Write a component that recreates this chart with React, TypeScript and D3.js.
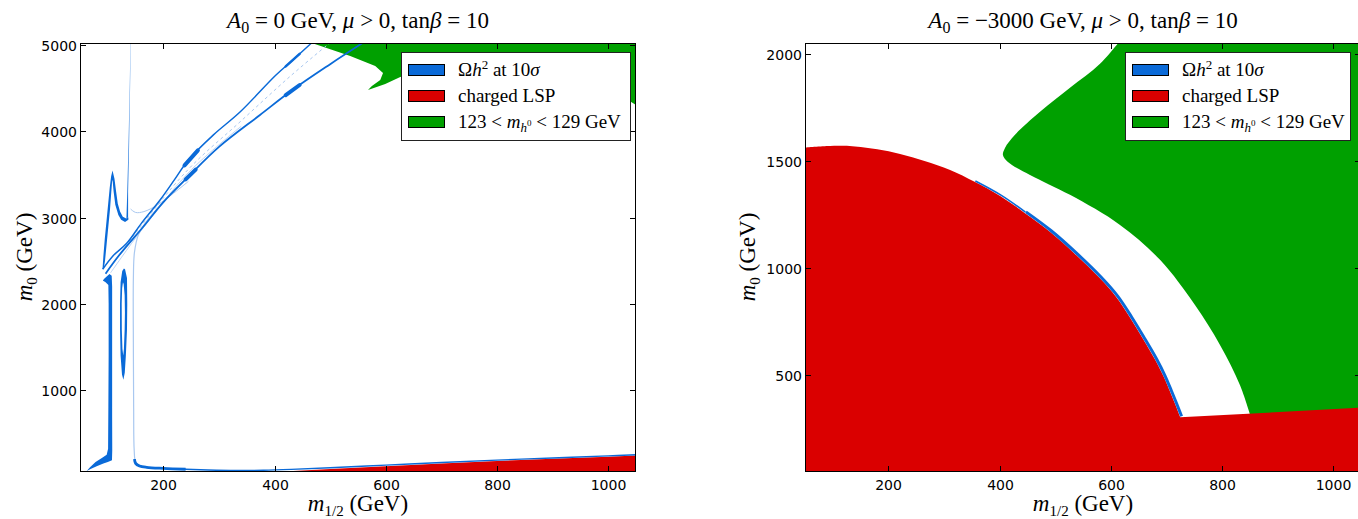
import React from 'react';
import * as d3 from 'd3';

type Pt = [number, number];

// ---------------- axes data ----------------
const xTicks = [200, 400, 600, 800, 1000];
const yTicksLeft = [1000, 2000, 3000, 4000, 5000];
const yTicksRight = [500, 1000, 1500, 2000];
const xDomain: [number, number] = [50, 1050];
const yDomainLeft: [number, number] = [50, 5025];
const yDomainRight: [number, number] = [50, 2050];

// ---------------- left panel (A0 = 0) ----------------
const leftRedEdge: Pt[] = [[400, 50], [500, 85], [600, 118], [700, 150], [800, 178], [900, 203], [1000, 228], [1050, 240], [1060, 240], [1060, 40], [400, 40]];
const leftGreen: Pt[] = [[467, 5100], [467, 5025], [536, 4874], [581, 4758], [595, 4677], [590, 4596], [575, 4526], [568, 4480], [599, 4550], [626, 4631], [716, 4758], [841, 4805], [949, 4712], [1050, 4306], [1100, 4306], [1100, 5100]];
const leftStrip: Pt[] = [[62, 62], [68, 105], [78, 165], [90, 215], [98, 250], [100.5, 320], [101, 800], [101.5, 1400], [101.5, 2000], [101, 2220], [96, 2250], [91, 2272], [94, 2295], [103, 2345], [107, 2325], [107.8, 2200], [107.8, 1400], [107.8, 700], [108, 300], [107.5, 185], [100, 165], [92, 150], [80, 118], [70, 88]];
const leftHook: Pt[] = [[90.5, 2400], [92, 2550], [94.5, 2750], [97.5, 2950], [100.5, 3150], [103.5, 3350], [106, 3480], [108.5, 3545], [112, 3450], [115, 3300], [118, 3160], [122, 3070], [127, 3010], [133, 2990], [137, 3000], [137, 2975], [131, 2950], [124, 2975], [119, 3030], [113.5, 3150], [110.5, 3300], [108.8, 3420], [108, 3440], [106.3, 3300], [104, 3100], [101, 2900], [98, 2700], [95, 2500], [93, 2420]];
const leftSpike: Pt[] = [[133.5, 2990], [135, 3300], [137, 3800], [139, 4400], [140.8, 5030], [141.5, 5030], [139.8, 4400], [138.2, 3800], [136.5, 3300], [136.5, 3000]];
const leftRingOuter: Pt[] = [[131, 2400], [134.5, 2300], [135, 2000], [134.5, 1700], [132.5, 1400], [130.5, 1200], [128, 1120], [125.5, 1180], [123, 1400], [122, 1700], [122, 2000], [123, 2250], [126, 2380], [129, 2410]];
const leftRingInner: Pt[] = [[128.5, 2230], [130.3, 2100], [130.8, 1900], [130.3, 1700], [129, 1480], [127.8, 1400], [126.3, 1480], [125.2, 1700], [125, 2000], [125.8, 2180], [127.3, 2250]];
const leftThinVertical: Pt[] = [[245, 3475], [200, 3180], [170, 2960], [155, 2800], [148, 2600], [146, 2300], [146, 1500], [146.5, 800], [147.5, 300], [150, 170], [158, 120], [175, 100]];
const leftBottomLine: Pt[] = [[148, 200], [150, 150], [157, 120], [170, 104], [200, 92], [240, 82], [280, 74], [330, 68], [380, 70], [430, 80], [500, 100], [600, 130], [700, 160], [800, 188], [900, 213], [1000, 237], [1050, 250]];
const leftLineA: Pt[] = [[90.8, 2401], [110, 2560], [134, 2702], [160, 2930], [194, 3204], [220, 3440], [244.8, 3668], [290, 3960], [337.8, 4225], [402.5, 4654], [433, 4828], [467.3, 5030]];
const leftLineB: Pt[] = [[96, 2350], [120, 2560], [163.8, 2894], [200, 3180], [244.8, 3475], [300, 3820], [373.7, 4190], [433.7, 4488], [500, 4780], [559.5, 5030]];
const leftFaintE: Pt[] = [[100, 2380], [150, 2820], [244.8, 3560], [337.8, 4110], [430, 4650], [500, 5030]];
const leftFaintF: Pt[] = [[105, 2360], [160, 2850], [244.8, 3520], [340, 4060]];
const leftArcD: Pt[] = [[141, 3100], [150, 3060], [165, 3070], [190, 3150], [245, 3420]];
const leftBulges: Pt[][] = [[[238, 3605], [262, 3779]], [[240, 3443], [258, 3557]], [[420, 4754], [445, 4899]], [[420, 4420], [445, 4538]]];

// ---------------- right panel (A0 = -3000) ----------------
const rightRedArc: Pt[] = [[50, 1563], [95, 1570], [140, 1568], [180, 1555], [221, 1533], [265, 1500], [311, 1458], [355, 1403], [401, 1337], [445, 1258], [491, 1169], [535, 1068], [580, 954], [610, 865], [635, 768], [658, 670], [680, 572], [695, 495], [707, 422], [716, 365], [725, 305]];
const rightRedLine: Pt[] = [[725, 305], [1050, 350], [1060, 351], [1060, 40], [40, 40], [40, 1563]];
const rightGreenEdge: Pt[] = [[616.5, 2060], [580.6, 1953], [526.6, 1841], [472.7, 1729], [427.7, 1622], [409.7, 1561], [406, 1528], [415, 1495], [454.7, 1435], [526.6, 1342], [616.5, 1202], [688.5, 1039], [751.4, 828], [796.4, 642], [832.4, 455], [850.4, 319]];
const rightGreenCorners: Pt[] = [[850.4, 319], [855, 300], [1060, 300], [1060, 2060], [616.5, 2060]];

const COL = { blue: '#0a6ad8', red: '#da0000', green: '#00a000', faint: '#a9c8f0' };
const PY0 = 43, PY1 = 472, TICK = 6;
const SERIF = '"Liberation Serif", "DejaVu Serif", serif';
const SANS = '"DejaVu Sans", sans-serif';

function Title({ cx, a0 }: { cx: number; a0: string }) {
  return (
    <text x={cx} y={28} textAnchor="middle" fontFamily={SERIF} fontSize={23}>
      <tspan fontStyle="italic">A</tspan>
      <tspan fontSize={16} dy={5}>0</tspan>
      <tspan dy={-5}>{` = ${a0} GeV, `}</tspan>
      <tspan fontStyle="italic">μ</tspan>
      <tspan>{' > 0, tan'}</tspan>
      <tspan fontStyle="italic">β</tspan>
      <tspan>{' = 10'}</tspan>
    </text>
  );
}

function Legend({ x, y, w }: { x: number; y: number; w: number }) {
  const rows = [COL.blue, COL.red, COL.green];
  return (
    <g>
      <rect x={x + 0.5} y={y + 0.5} width={w} height={88} fill="#fff" stroke="#222" strokeWidth={1} />
      {rows.map((c, i) => (
        <rect key={i} x={x + 7.5} y={y + 12.5 + i * 26} width={36} height={11} fill={c} stroke="#000" strokeWidth={1} />
      ))}
      <text x={x + 57} y={y + 24} fontFamily={SERIF} fontSize={19}>
        <tspan>Ω</tspan>
        <tspan fontStyle="italic">h</tspan>
        <tspan fontSize={13} dy={-7}>2</tspan>
        <tspan dy={7}>{' at 10'}</tspan>
        <tspan fontStyle="italic">σ</tspan>
      </text>
      <text x={x + 57} y={y + 50} fontFamily={SERIF} fontSize={19}>charged LSP</text>
      <text x={x + 57} y={y + 76} fontFamily={SERIF} fontSize={19}>
        <tspan>{'123 < '}</tspan>
        <tspan fontStyle="italic">m</tspan>
        <tspan fontStyle="italic" fontSize={13} dy={4}>h</tspan>
        <tspan fontSize={9} dy={-6}>0</tspan>
        <tspan dy={2}>{' < 129 GeV'}</tspan>
      </text>
    </g>
  );
}

function Frame({ xs, ys, yTicks }: { xs: d3.ScaleLinear<number, number>; ys: d3.ScaleLinear<number, number>; yTicks: number[] }) {
  const [x0, x1] = xs.range();
  return (
    <g>
      <rect x={x0 + 0.5} y={PY0 + 0.5} width={x1 - x0 - 1} height={PY1 - PY0 - 1} fill="none" stroke="#000" strokeWidth={1} />
      {xTicks.map(t => {
        const x = Math.round(xs(t)) + 0.5;
        return (
          <g key={t}>
            <line x1={x} x2={x} y1={PY1} y2={PY1 - TICK} stroke="#000" />
            <line x1={x} x2={x} y1={PY0} y2={PY0 + TICK} stroke="#000" />
            <text x={x} y={PY1 + 18} textAnchor="middle" fontFamily={SANS} fontSize={14}>{t}</text>
          </g>
        );
      })}
      {yTicks.map(t => {
        const y = Math.round(ys(t)) + 0.5;
        return (
          <g key={t}>
            <line x1={x0} x2={x0 + TICK} y1={y} y2={y} stroke="#000" />
            <line x1={x1} x2={x1 - TICK} y1={y} y2={y} stroke="#000" />
            <text x={x0 - 3} y={y + 5} textAnchor="end" fontFamily={SANS} fontSize={14}>{t}</text>
          </g>
        );
      })}
    </g>
  );
}

function AxisLabels({ cx, ly }: { cx: number; ly: number }) {
  return (
    <g>
      <text x={cx} y={511} textAnchor="middle" fontFamily={SERIF} fontSize={23}>
        <tspan fontStyle="italic">m</tspan>
        <tspan fontSize={15} dy={5}>1/2</tspan>
        <tspan dy={-5}>{' (GeV)'}</tspan>
      </text>
      <text transform={`translate(${ly},257) rotate(-90)`} textAnchor="middle" fontFamily={SERIF} fontSize={23}>
        <tspan fontStyle="italic">m</tspan>
        <tspan fontSize={15} dy={5}>0</tspan>
        <tspan dy={-5}>{' (GeV)'}</tspan>
      </text>
    </g>
  );
}

export default function App() {
  const xsL = d3.scaleLinear().domain(xDomain).range([80, 636]);
  const ysL = d3.scaleLinear().domain(yDomainLeft).range([PY1, PY0]);
  const xsR = d3.scaleLinear().domain(xDomain).range([805, 1361]);
  const ysR = d3.scaleLinear().domain(yDomainRight).range([PY1, PY0]);

  const polyL = d3.line<Pt>().x(d => xsL(d[0])).y(d => ysL(d[1])).curve(d3.curveLinearClosed);
  const smoothL = d3.line<Pt>().x(d => xsL(d[0])).y(d => ysL(d[1])).curve(d3.curveCatmullRom.alpha(0.5));
  const smoothR = d3.line<Pt>().x(d => xsR(d[0])).y(d => ysR(d[1])).curve(d3.curveCatmullRom.alpha(0.5));
  const linR = d3.line<Pt>().x(d => xsR(d[0])).y(d => ysR(d[1]));

  const redRightPath = (smoothR(rightRedArc) || '') + (linR(rightRedLine) || '').replace(/^M/, 'L') + 'Z';
  const greenRightPath = (smoothR(rightGreenEdge) || '') + (linR(rightGreenCorners) || '').replace(/^M/, 'L') + 'Z';

  return (
    <svg width={1358} height={519} style={{ position: 'absolute', left: 0, top: 0, background: '#fff' }}>
      <defs>
        <clipPath id="clipL"><rect x={80} y={PY0} width={556} height={PY1 - PY0} /></clipPath>
        <clipPath id="clipR"><rect x={805} y={PY0} width={556} height={PY1 - PY0} /></clipPath>
        <linearGradient id="spikeGrad" x1="0" y1="1" x2="0" y2="0">
          <stop offset="0" stopColor={COL.blue} />
          <stop offset="0.6" stopColor="#4a90e4" />
          <stop offset="1" stopColor="#8ab8ee" />
        </linearGradient>
      </defs>
      <rect x={0} y={0} width={1358} height={519} fill="#fff" />

      {/* LEFT PANEL */}
      <g clipPath="url(#clipL)">
        <path d={polyL(leftGreen) || ''} fill={COL.green} />
        <path d={polyL(leftRedEdge) || ''} fill={COL.red} />
        <path d={smoothL(leftFaintE) || ''} fill="none" stroke={COL.faint} strokeWidth={1} strokeDasharray="3,3" />
        <path d={smoothL(leftFaintF) || ''} fill="none" stroke={COL.faint} strokeWidth={0.8} />
        <path d={smoothL(leftThinVertical) || ''} fill="none" stroke={COL.faint} strokeWidth={1.2} />
        <path d={smoothL(leftArcD) || ''} fill="none" stroke={COL.faint} strokeWidth={1} />
        <path d={smoothL(leftBottomLine) || ''} fill="none" stroke={COL.blue} strokeWidth={1.4} />
        <path d={smoothL(leftBottomLine.filter(d => d[0] <= 260)) || ''} fill="none" stroke={COL.blue} strokeWidth={2.8} />
        <path d={smoothL(leftLineA) || ''} fill="none" stroke={COL.blue} strokeWidth={1.5} />
        <path d={smoothL(leftLineB) || ''} fill="none" stroke={COL.blue} strokeWidth={1.8} />
        {leftBulges.map((b, i) => (
          <path key={i} d={smoothL(b) || ''} fill="none" stroke={COL.blue} strokeWidth={i === 2 ? 2.6 : 4} strokeLinecap="round" />
        ))}
        <path d={polyL(leftStrip) || ''} fill={COL.blue} />
        <path d={polyL(leftHook) || ''} fill={COL.blue} />
        <path d={polyL(leftSpike) || ''} fill="url(#spikeGrad)" />
        <path d={(polyL(leftRingOuter) || '') + (polyL(leftRingInner) || '')} fill={COL.blue} fillRule="evenodd" />
      </g>
      <Frame xs={xsL} ys={ysL} yTicks={yTicksLeft} />
      <Legend x={401} y={52} w={229} />
      <Title cx={358} a0="0" />
      <AxisLabels cx={358} ly={32} />

      {/* RIGHT PANEL */}
      <g clipPath="url(#clipR)">
        <path d={greenRightPath} fill={COL.green} />
        <path d={redRightPath} fill={COL.red} />
        <path d={smoothR(rightRedArc.filter(d => d[0] >= 330 && d[0] <= 460)) || ''} fill="none" stroke={COL.blue} strokeWidth={1.6} transform="translate(0.8,-0.8)" />
        <path d={smoothR(rightRedArc.filter(d => d[0] >= 440)) || ''} fill="none" stroke={COL.blue} strokeWidth={3} transform="translate(1.3,-1)" />
      </g>
      <Frame xs={xsR} ys={ysR} yTicks={yTicksRight} />
      <Legend x={1125} y={52} w={225} />
      <Title cx={1083} a0={'\u22123000'} />
      <AxisLabels cx={1083} ly={755} />
    </svg>
  );
}
